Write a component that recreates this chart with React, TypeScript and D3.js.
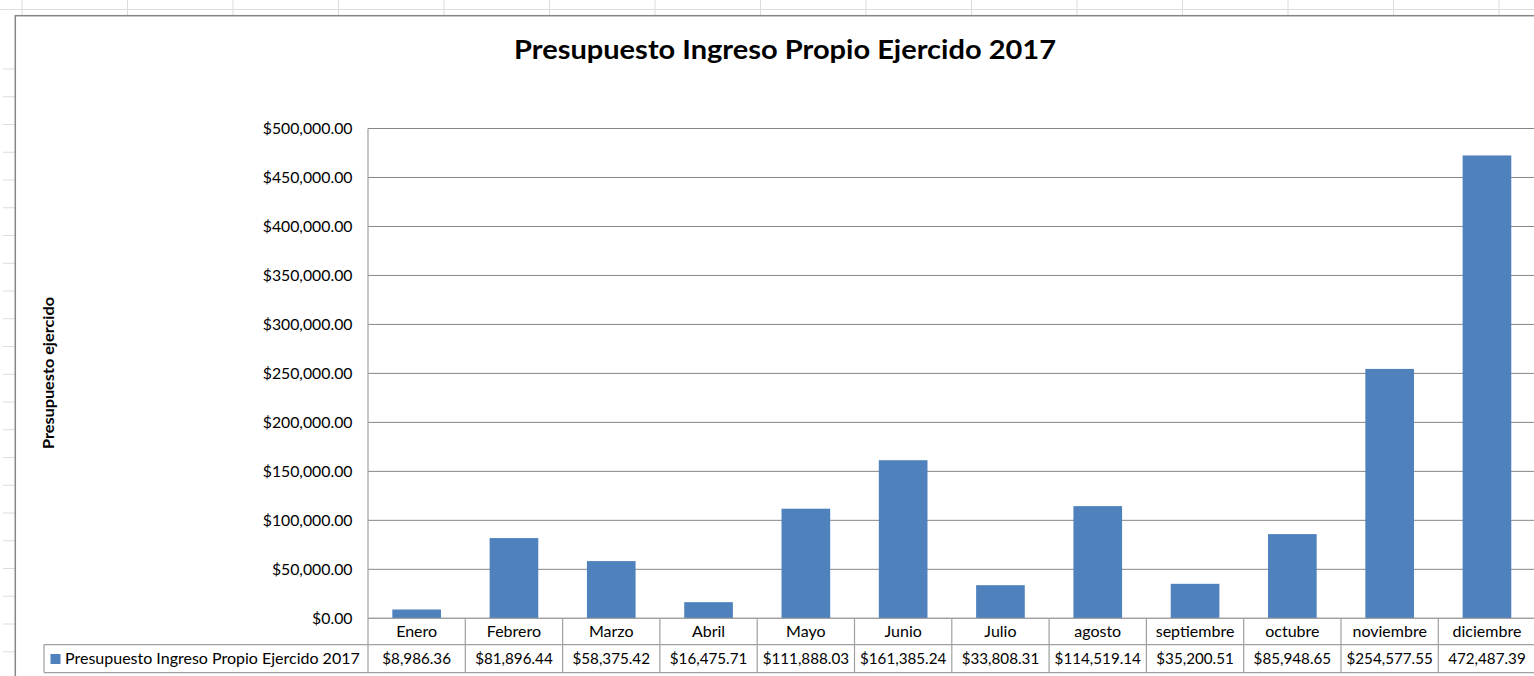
import React, { useEffect, useRef } from 'react';
import * as d3 from 'd3';

// data
const months = ['Enero', 'Febrero', 'Marzo', 'Abril', 'Mayo', 'Junio', 'Julio', 'agosto', 'septiembre', 'octubre', 'noviembre', 'diciembre'];
const values = [8986.36, 81896.44, 58375.42, 16475.71, 111888.03, 161385.24, 33808.31, 114519.14, 35200.51, 85948.65, 254577.55, 472487.39];
const valueLabels = ['$8,986.36', '$81,896.44', '$58,375.42', '$16,475.71', '$111,888.03', '$161,385.24', '$33,808.31', '$114,519.14', '$35,200.51', '$85,948.65', '$254,577.55', '472,487.39'];
const yTicks = [0, 50000, 100000, 150000, 200000, 250000, 300000, 350000, 400000, 450000, 500000];

const seriesName = 'Presupuesto Ingreso Propio Ejercido 2017';
const title = 'Presupuesto Ingreso Propio Ejercido 2017';
const yTitle = 'Presupuesto ejercido';

const W = 1534;
const H = 676;
const FONT = "Lato, 'Open Sans', sans-serif";
const BAR = '#4F81BD';

function Chart() {
  const ref = useRef<SVGSVGElement | null>(null);

  useEffect(() => {
    const svg = d3.select(ref.current);
    svg.selectAll('*').remove();
    draw(svg);
  }, []);

  function draw(svg: d3.Selection<SVGSVGElement | null, unknown, null, undefined>) {
    svg.append('rect').attr('width', W).attr('height', H).attr('fill', '#fff');

    // spreadsheet cells peeking around the chart
    const sheet = svg.append('g').attr('stroke', '#dcdcdc').attr('stroke-width', 1);
    sheet.append('line').attr('x1', 0).attr('x2', W).attr('y1', 9.5).attr('y2', 9.5);
    d3.range(22, W, 105.5).forEach(x => {
      sheet.append('line').attr('x1', x).attr('x2', x).attr('y1', 0).attr('y2', 15);
    });
    d3.range(69, H, 27.75).forEach(y => {
      sheet.append('line').attr('x1', 3).attr('x2', 15).attr('y1', y).attr('y2', y);
    });

    // chart frame
    svg.append('rect')
      .attr('x', 15.3).attr('y', 15.7)
      .attr('width', W).attr('height', H)
      .attr('fill', '#fff')
      .attr('stroke', '#868686').attr('stroke-width', 1.5);

    const left = 368;
    const step = 97.3;
    const right = left + step * months.length;
    const top = 128.5;
    const bottom = 618.3;
    const row1 = 644.6;
    const row2 = 672.6;

    const x = d3.scaleBand<string>().domain(months).range([left, right]).padding(0);
    const y = d3.scaleLinear().domain([0, 500000]).range([bottom, top]);
    const fmt = (v: number) => '$' + d3.format(',.2f')(v);

    // title
    svg.append('text')
      .attr('x', 785).attr('y', 59)
      .attr('text-anchor', 'middle')
      .attr('textLength', 542).attr('lengthAdjust', 'spacingAndGlyphs')
      .style('font-family', FONT).style('font-size', '27px').style('font-weight', 'bold')
      .attr('fill', '#000')
      .text(title);

    // y axis title
    svg.append('text')
      .attr('transform', 'translate(54,373) rotate(-90)')
      .attr('text-anchor', 'middle')
      .attr('textLength', 152).attr('lengthAdjust', 'spacingAndGlyphs')
      .style('font-family', FONT).style('font-size', '15px').style('font-weight', 'bold')
      .attr('fill', '#000')
      .text(yTitle);

    // gridlines
    svg.append('g').selectAll('line')
      .data(yTicks)
      .enter().append('line')
      .attr('x1', left).attr('x2', right)
      .attr('y1', d => y(d)).attr('y2', d => y(d))
      .attr('stroke', '#868686').attr('stroke-width', 1);

    // tick labels
    svg.append('g').selectAll('text')
      .data(yTicks)
      .enter().append('text')
      .attr('x', 352.5).attr('y', d => y(d))
      .attr('dy', '0.35em')
      .attr('text-anchor', 'end')
      .style('font-family', FONT).style('font-size', '15.8px')
      .attr('fill', '#000')
      .text(d => fmt(d));

    // bars
    svg.append('g').selectAll('rect')
      .data(values)
      .enter().append('rect')
      .attr('x', (d, i) => (x(months[i]) as number) + x.bandwidth() / 4)
      .attr('width', x.bandwidth() / 2)
      .attr('y', d => y(d))
      .attr('height', d => bottom - y(d))
      .attr('fill', BAR);

    // data table
    const tbl = svg.append('g').attr('stroke', '#a0a0a0').attr('stroke-width', 1.2);
    tbl.append('line').attr('x1', left).attr('x2', left).attr('y1', top).attr('y2', row2);
    tbl.append('line').attr('x1', left).attr('x2', right).attr('y1', bottom).attr('y2', bottom);
    tbl.append('line').attr('x1', 44).attr('x2', right).attr('y1', row1).attr('y2', row1);
    tbl.append('line').attr('x1', 44).attr('x2', right).attr('y1', row2).attr('y2', row2);
    tbl.append('line').attr('x1', 44).attr('x2', 44).attr('y1', row1).attr('y2', row2);
    months.forEach(m => {
      const xr = (x(m) as number) + x.bandwidth();
      tbl.append('line').attr('x1', xr).attr('x2', xr).attr('y1', bottom).attr('y2', row2);
    });

    svg.append('g').selectAll('text')
      .data(months)
      .enter().append('text')
      .attr('x', d => (x(d) as number) + x.bandwidth() / 2)
      .attr('y', (bottom + row1) / 2)
      .attr('dy', '0.35em')
      .attr('text-anchor', 'middle')
      .style('font-family', FONT).style('font-size', '16px')
      .attr('fill', '#000')
      .text(d => d);

    svg.append('g').selectAll('text')
      .data(valueLabels)
      .enter().append('text')
      .attr('x', (d, i) => (x(months[i]) as number) + x.bandwidth() / 2)
      .attr('y', (row1 + row2) / 2)
      .attr('dy', '0.35em')
      .attr('text-anchor', 'middle')
      .style('font-family', FONT).style('font-size', '15.2px')
      .attr('fill', '#000')
      .text(d => d);

    // legend key inside the table
    svg.append('rect')
      .attr('x', 50.5).attr('y', 654)
      .attr('width', 10).attr('height', 10)
      .attr('fill', BAR);
    svg.append('text')
      .attr('x', 65).attr('y', (row1 + row2) / 2)
      .attr('dy', '0.35em')
      .style('font-family', FONT).style('font-size', '16px')
      .attr('fill', '#000')
      .text(seriesName);
  }

  return <svg ref={ref} width={W} height={H} style={{ display: 'block' }}></svg>;
}

export default function App() {
  return (
    <div style={{ position: 'absolute', left: 0, top: 0, width: W, height: H, overflow: 'hidden' }}>
      <Chart />
    </div>
  );
}
